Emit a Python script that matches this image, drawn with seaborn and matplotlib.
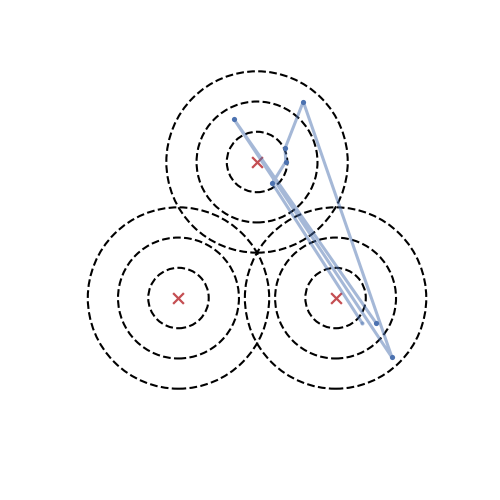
import numpy as np
import pandas as pd
import seaborn as sns
import matplotlib
matplotlib.use("Agg")
import matplotlib.pyplot as plt
from matplotlib.patches import Circle

# ── Data ─────────────────────────────────────────────────────────────────────
center_x = [0.0, -0.866, 0.866]
center_y = [1.0, -0.5, -0.5]
radii    = [1 / 3, 2 / 3, 1.0]

# trajectory (in visiting order)
path_x = [1.312, -0.254, 1.488, 0.510, 0.309, 0.317, 0.168, 1.161]
path_y = [-0.775, 1.471, -1.155, 1.665, 1.150, 1.004, 0.765, -0.779]
path_alpha = [1.0, 1.0, 1.0, 1.0, 1.0, 1.0, 1.0, 0.45]

sns.set_theme(style="white")

fig = plt.figure(figsize=(5, 5), dpi=100)
ax = fig.add_axes([0, 0, 1, 1])

# ── Dashed level circles ─────────────────────────────────────────────────────
for cx, cy in zip(center_x, center_y):
    for r in radii:
        ax.add_patch(Circle((cx, cy), r, fill=False, ec="black",
                            ls="--", lw=1.5))

sns.scatterplot(x=center_x, y=center_y, marker="x", color="#C44E52",
                s=60, linewidth=1.6, ax=ax, zorder=3)

# ── Trajectory ───────────────────────────────────────────────────────────────
df = pd.DataFrame({"x": path_x, "y": path_y, "a": path_alpha})
ax.plot(df["x"], df["y"], color="#4C72B0", alpha=0.5, lw=2.2, zorder=4)
full = df[df["a"] == 1.0]
faded = df[df["a"] < 1.0]
sns.scatterplot(data=full, x="x", y="y", color="#4C72B0", s=14,
                linewidth=0, ax=ax, zorder=5)
sns.scatterplot(data=faded, x="x", y="y", color="#4C72B0", s=9,
                alpha=0.45, linewidth=0, ax=ax, zorder=5)

ax.set_xlim(-2.834, 2.679)
ax.set_ylim(-2.727, 2.786)
ax.set_aspect("equal")
ax.axis("off")

fig.savefig("out.png", dpi=100)
